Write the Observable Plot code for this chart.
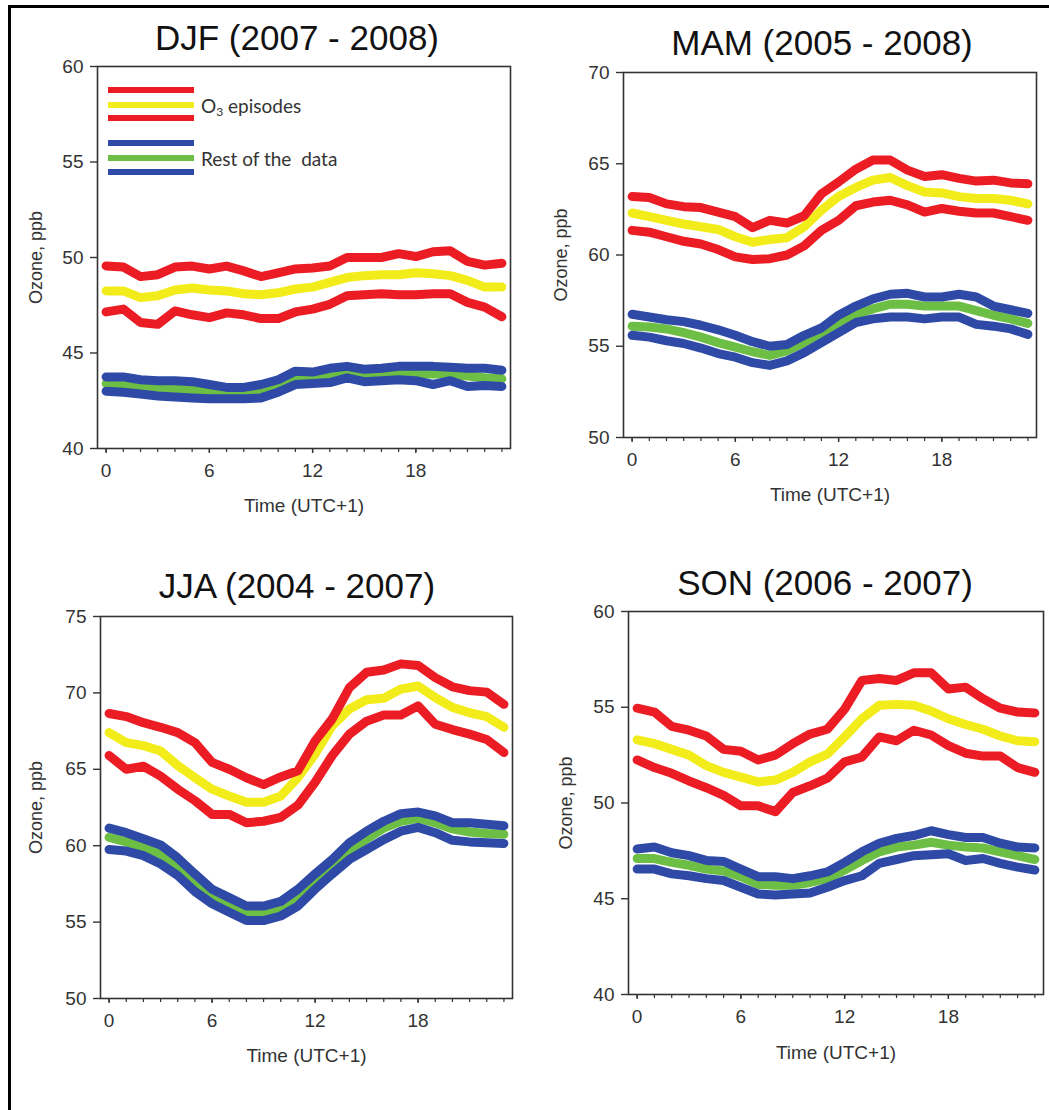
<!DOCTYPE html>
<html>
<head>
<meta charset="utf-8">
<script src="https://cdn.jsdelivr.net/npm/d3@7"></script>
<script src="https://cdn.jsdelivr.net/npm/@observablehq/plot@0.6"></script>
<style>
  body { margin: 0; background: #fff; }
  #chart { position: relative; width: 1049px; height: 1110px; overflow: hidden; background: #fff; font-family: "Liberation Sans", Arial, sans-serif; }
  .panel { position: absolute; }
  .title { position: absolute; font-size: 35px; color: #111; transform: translate(-50%, -50%); white-space: nowrap; font-family: "Liberation Sans", Arial, sans-serif; }
  .bl { position: absolute; left: 8px; top: 5px; width: 3px; height: 1105px; background: #000; }
  .bt { position: absolute; left: 8px; top: 5px; width: 1041px; height: 3px; background: #000; }
  .lg-line { position: absolute; height: 6px; }
  .lg-text { position: absolute; font-family: Lato, "Open Sans", sans-serif; font-size: 19px; color: #333; transform: translateY(-50%); white-space: pre; }
</style>
</head>
<body>
<div id="chart">
  <div class="bl"></div>
  <div class="bt"></div>
</div>
<script>
// ---- data ----
const hours = [0,1,2,3,4,5,6,7,8,9,10,11,12,13,14,15,16,17,18,19,20,21,22,23];
const xTicks = [0, 6, 12, 18];

const seasons = ["DJF (2007 - 2008)", "MAM (2005 - 2008)", "JJA (2004 - 2007)", "SON (2006 - 2007)"];
const legendLabels = ["O3 episodes", "Rest of the  data"];

// DJF
const djfO3Upper = [49.56,49.5,49.0,49.1,49.5,49.55,49.4,49.55,49.3,49.0,49.2,49.4,49.45,49.55,50.0,50.0,50.0,50.2,50.05,50.3,50.35,49.8,49.6,49.7];
const djfO3Mean  = [48.25,48.25,47.9,48.0,48.3,48.4,48.3,48.25,48.1,48.05,48.15,48.35,48.45,48.7,48.95,49.05,49.1,49.1,49.2,49.15,49.05,48.8,48.45,48.45];
const djfO3Lower = [47.15,47.3,46.6,46.5,47.2,47.0,46.85,47.1,47.0,46.8,46.8,47.15,47.3,47.55,48.0,48.05,48.1,48.05,48.05,48.1,48.1,47.65,47.4,46.9];
const djfRestUpper = [43.75,43.75,43.6,43.55,43.55,43.5,43.35,43.2,43.2,43.35,43.6,44.05,44.0,44.2,44.3,44.15,44.2,44.3,44.3,44.3,44.25,44.2,44.2,44.1];
const djfRestMean  = [43.4,43.35,43.25,43.15,43.1,43.05,42.95,42.95,42.95,43.0,43.2,43.65,43.7,43.8,44.0,43.8,43.8,43.9,43.9,43.9,43.9,43.8,43.7,43.65];
const djfRestLower = [43.0,42.95,42.85,42.75,42.7,42.65,42.6,42.6,42.6,42.65,42.95,43.35,43.4,43.45,43.7,43.5,43.55,43.6,43.55,43.35,43.55,43.25,43.3,43.25];

// MAM
const mamO3Upper = [63.2,63.15,62.8,62.65,62.6,62.35,62.1,61.5,61.9,61.75,62.15,63.35,64.0,64.7,65.2,65.2,64.65,64.3,64.4,64.2,64.05,64.1,63.95,63.9];
const mamO3Mean  = [62.3,62.1,61.9,61.7,61.55,61.4,61.0,60.7,60.85,60.95,61.55,62.45,63.2,63.7,64.1,64.25,63.8,63.45,63.4,63.2,63.1,63.1,63.0,62.8];
const mamO3Lower = [61.35,61.25,61.0,60.75,60.6,60.3,59.9,59.75,59.8,60.0,60.5,61.35,61.9,62.7,62.9,63.0,62.75,62.35,62.55,62.4,62.3,62.3,62.1,61.9];
const mamRestUpper = [56.75,56.6,56.45,56.35,56.15,55.9,55.6,55.25,55.0,55.1,55.6,56.0,56.7,57.2,57.6,57.85,57.9,57.7,57.7,57.85,57.7,57.2,57.0,56.8];
const mamRestMean  = [56.1,56.05,55.95,55.75,55.5,55.2,54.95,54.7,54.5,54.75,55.2,55.75,56.3,56.75,57.05,57.3,57.3,57.2,57.2,57.2,56.95,56.7,56.5,56.25];
const mamRestLower = [55.6,55.5,55.3,55.15,54.9,54.6,54.4,54.1,53.95,54.2,54.65,55.2,55.75,56.3,56.5,56.6,56.6,56.5,56.6,56.6,56.2,56.1,55.95,55.65];

// JJA
const jjaO3Upper = [68.65,68.45,68.05,67.75,67.4,66.75,65.45,65.0,64.45,64.0,64.5,64.9,66.85,68.3,70.35,71.35,71.5,71.9,71.8,71.0,70.4,70.15,70.05,69.25];
const jjaO3Mean  = [67.4,66.75,66.55,66.2,65.25,64.45,63.7,63.25,62.85,62.85,63.25,64.45,66.0,67.85,68.95,69.55,69.65,70.25,70.45,69.7,69.05,68.7,68.45,67.75];
const jjaO3Lower = [65.9,65.0,65.2,64.55,63.7,62.95,62.05,62.05,61.5,61.6,61.85,62.65,64.15,65.9,67.3,68.15,68.55,68.55,69.15,67.95,67.6,67.3,66.95,66.1];
const jjaRestUpper = [61.15,60.85,60.45,60.05,59.2,58.15,57.15,56.6,56.05,56.05,56.35,57.15,58.15,59.1,60.2,60.95,61.6,62.1,62.2,61.95,61.5,61.5,61.4,61.3];
const jjaRestMean  = [60.55,60.25,59.9,59.45,58.65,57.6,56.7,56.1,55.5,55.5,55.85,56.6,57.6,58.55,59.65,60.45,61.15,61.6,61.8,61.5,61.1,60.9,60.8,60.75];
const jjaRestLower = [59.75,59.65,59.35,58.8,58.05,57.0,56.2,55.65,55.1,55.1,55.4,56.05,57.15,58.15,59.1,59.75,60.4,60.95,61.2,60.85,60.35,60.25,60.2,60.15];

// SON
const sonO3Upper = [54.95,54.75,54.0,53.8,53.5,52.8,52.7,52.25,52.5,53.1,53.6,53.85,54.9,56.4,56.5,56.4,56.8,56.8,55.95,56.05,55.45,54.95,54.75,54.7];
const sonO3Mean  = [53.3,53.1,52.8,52.5,51.95,51.6,51.35,51.1,51.2,51.6,52.15,52.55,53.45,54.4,55.1,55.15,55.1,54.8,54.4,54.1,53.85,53.5,53.25,53.2];
const sonO3Lower = [52.25,51.85,51.55,51.15,50.8,50.4,49.85,49.85,49.55,50.55,50.9,51.3,52.15,52.4,53.45,53.25,53.8,53.55,53.0,52.6,52.45,52.45,51.85,51.6];
const sonRestUpper = [47.6,47.7,47.4,47.25,47.0,46.95,46.55,46.15,46.15,46.05,46.2,46.4,46.9,47.45,47.9,48.15,48.3,48.55,48.35,48.2,48.2,47.9,47.7,47.65];
const sonRestMean  = [47.1,47.1,46.9,46.75,46.55,46.45,46.15,45.75,45.7,45.7,45.85,46.05,46.5,47.0,47.45,47.7,47.8,47.95,47.8,47.7,47.65,47.45,47.25,47.05];
const sonRestLower = [46.55,46.55,46.3,46.2,46.05,45.95,45.6,45.25,45.2,45.25,45.3,45.6,45.95,46.2,46.85,47.05,47.25,47.3,47.35,47.0,47.1,46.85,46.65,46.5];

const colorRed = "#ec1c24", colorYellow = "#f2ec1a", colorBlue = "#2e4aa6", colorGreen = "#6dbe45";

// ---- drawing ----
const chart = document.getElementById("chart");

function panel(cfg) {
  const series = [
    {values: cfg.o3Mean, color: colorYellow},
    {values: cfg.restMean, color: colorGreen},
    {values: cfg.o3Upper, color: colorRed},
    {values: cfg.o3Lower, color: colorRed},
    {values: cfg.restUpper, color: colorBlue},
    {values: cfg.restLower, color: colorBlue}
  ];
  const p = Plot.plot({
    width: cfg.w, height: 555,
    marginLeft: cfg.m[0], marginRight: cfg.m[1], marginTop: cfg.m[2], marginBottom: cfg.m[3],
    x: {domain: [-0.5, 23.5]},
    y: {domain: cfg.yDomain},
    style: {fontFamily: "'Liberation Sans', Arial, sans-serif", fontSize: "19px", color: "#333", background: "transparent", overflow: "visible"},
    marks: [
      ...series.map(s => Plot.lineY(s.values, {x: (d, i) => hours[i], y: d => d, stroke: s.color, strokeWidth: 9, strokeLinecap: "round", strokeLinejoin: "round"})),
      Plot.frame({stroke: "#333", strokeWidth: 1.6}),
      Plot.axisY({ticks: cfg.yTicks, tickSize: 7, tickPadding: 7, stroke: "#333", strokeWidth: 1.4, fontSize: 19, label: null}),
      Plot.axisY({ticks: [], label: "Ozone, ppb", labelAnchor: "center", labelArrow: "none", labelOffset: cfg.yLabelOffset, fontSize: 18}),
      Plot.axisX({ticks: hours, tickSize: 4, tickFormat: () => "", stroke: "#333", strokeWidth: 1.2, label: null}),
      Plot.axisX({ticks: xTicks, tickSize: 5, tickPadding: 10, stroke: "#333", strokeWidth: 1.4, fontSize: 19, label: null}),
      Plot.axisX({ticks: [], label: "Time (UTC+1)", labelAnchor: "center", labelArrow: "none", labelOffset: cfg.xLabelOffset, fontSize: 19})
    ]
  });
  const wrap = document.createElement("div");
  wrap.className = "panel";
  wrap.style.left = cfg.ox + "px";
  wrap.style.top = cfg.oy + "px";
  wrap.appendChild(p);
  chart.appendChild(wrap);

  const t = document.createElement("div");
  t.className = "title";
  t.textContent = cfg.title;
  t.style.left = cfg.titlePos[0] + "px";
  t.style.top = cfg.titlePos[1] + "px";
  chart.appendChild(t);
}

panel({title: seasons[0], ox: 0, oy: 0, w: 525, m: [97, 15, 66, 107], yDomain: [40, 60], yTicks: [40,45,50,55,60],
  yLabelOffset: 68, xLabelOffset: 63, titlePos: [297, 38],
  o3Upper: djfO3Upper, o3Mean: djfO3Mean, o3Lower: djfO3Lower, restUpper: djfRestUpper, restMean: djfRestMean, restLower: djfRestLower});
panel({title: seasons[1], ox: 525, oy: 0, w: 524, m: [98, 13, 72, 118], yDomain: [50, 70], yTicks: [50,55,60,65,70],
  yLabelOffset: 69, xLabelOffset: 63, titlePos: [822, 43],
  o3Upper: mamO3Upper, o3Mean: mamO3Mean, o3Lower: mamO3Lower, restUpper: mamRestUpper, restMean: mamRestMean, restLower: mamRestLower});
panel({title: seasons[2], ox: 0, oy: 555, w: 525, m: [100, 13, 61, 112], yDomain: [50, 75], yTicks: [50,55,60,65,70,75],
  yLabelOffset: 71, xLabelOffset: 63, titlePos: [297, 586],
  o3Upper: jjaO3Upper, o3Mean: jjaO3Mean, o3Lower: jjaO3Lower, restUpper: jjaRestUpper, restMean: jjaRestMean, restLower: jjaRestLower});
panel({title: seasons[3], ox: 525, oy: 555, w: 524, m: [103, 6, 56, 116], yDomain: [40, 60], yTicks: [40,45,50,55,60],
  yLabelOffset: 69, xLabelOffset: 64, titlePos: [825, 583],
  o3Upper: sonO3Upper, o3Mean: sonO3Mean, o3Lower: sonO3Lower, restUpper: sonRestUpper, restMean: sonRestMean, restLower: sonRestLower});

// ---- legend (DJF panel) ----
const legendSwatches = [
  [colorRed, 90], [colorYellow, 105], [colorRed, 118],
  [colorBlue, 143], [colorGreen, 158], [colorBlue, 172]
];
legendSwatches.forEach(([c, y]) => {
  const d = document.createElement("div");
  d.className = "lg-line";
  d.style.background = c;
  d.style.left = "108px";
  d.style.width = "86px";
  d.style.top = (y - 3) + "px";
  chart.appendChild(d);
});
const lt1 = document.createElement("div");
lt1.className = "lg-text";
lt1.innerHTML = "O<sub style='font-size:12px;vertical-align:-3px'>3</sub> episodes";
lt1.style.left = "201px"; lt1.style.top = "106px";
chart.appendChild(lt1);
const lt2 = document.createElement("div");
lt2.className = "lg-text";
lt2.textContent = legendLabels[1];
lt2.style.left = "201px"; lt2.style.top = "158px";
chart.appendChild(lt2);
</script>
</body>
</html>
